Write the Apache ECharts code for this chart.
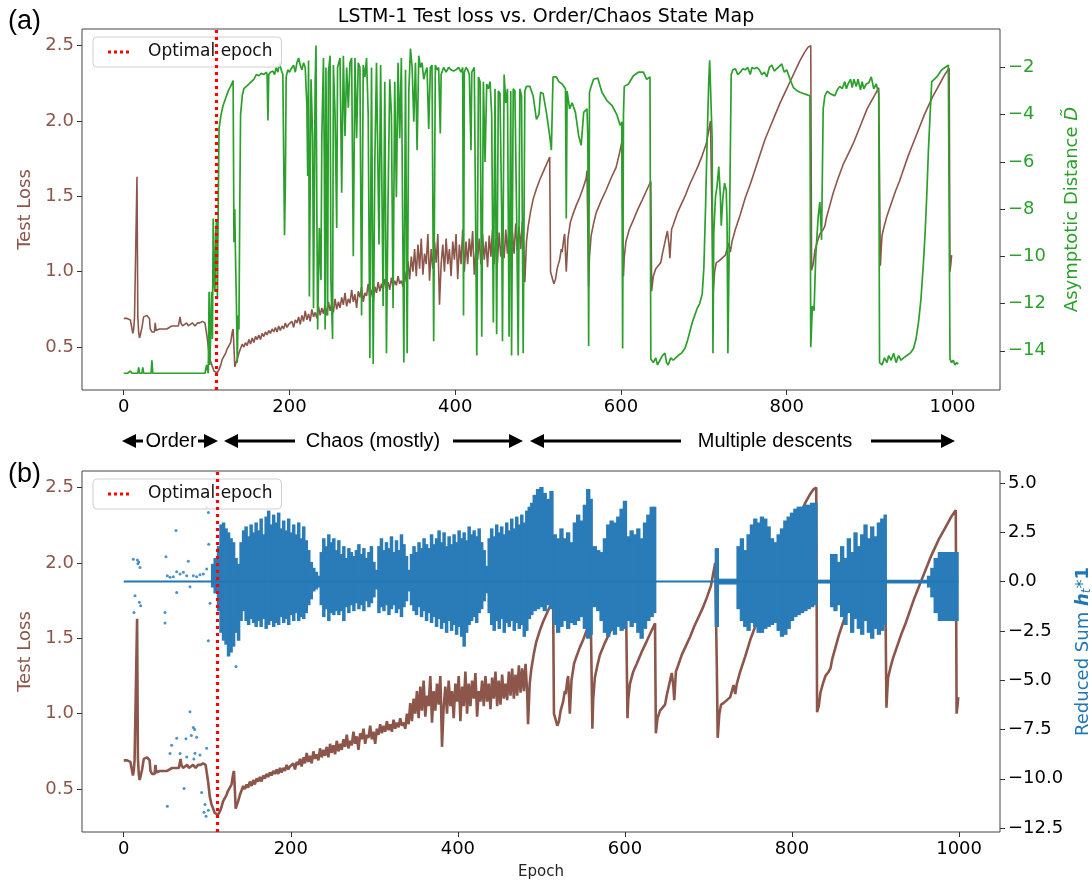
<!DOCTYPE html>
<html>
<head>
<meta charset="utf-8">
<script src="https://cdn.jsdelivr.net/npm/echarts@6/dist/echarts.min.js"></script>
<style>
  html, body { margin: 0; padding: 0; background: #fff; }
  #main { width: 1092px; height: 881px; }
</style>
</head>
<body>
<div id="main"></div>
<script>
// ---- data ----
const optimalEpoch = 112;
const xTicks = [0, 200, 400, 600, 800, 1000];
const lossTicks = [0.5, 1.0, 1.5, 2.0, 2.5];
const distTicks = [-14, -12, -10, -8, -6, -4, -2];
const sumTicks = [-12.5, -10, -7.5, -5, -2.5, 0, 2.5, 5];

// test loss per epoch [epoch, loss]
const testLoss = [
  [0,0.69],[4,0.69],[8,0.68],[10,0.69],[11,0.59],[12,0.62],[13,0.69],[15,0.70],[16,1.63],[17,0.70],[18,0.60],[19,0.56],
  [20,0.58],[22,0.63],[24,0.70],[26,0.70],[28,0.71],[31,0.69],[32,0.62],[34,0.60],[35,0.61],[37,0.60],[38,0.66],[39,0.61],
  [41,0.60],[43,0.62],[45,0.61],[48,0.62],[50,0.63],[52,0.62],[55,0.63],[58,0.64],[60,0.63],[62,0.64],[64,0.65],[66,0.64],
  [68,0.70],[69,0.66],[71,0.64],[73,0.65],[76,0.66],[78,0.64],[80,0.65],[83,0.66],[86,0.64],[89,0.66],[92,0.66],[95,0.67],
  [98,0.66],[100,0.66],[101,0.55],[103,0.45],[105,0.40],[107,0.37],[109,0.34],[111,0.33],[113,0.33],[115,0.35],[117,0.38],
  [119,0.42],[121,0.44],[123,0.46],[125,0.49],[127,0.48],[129,0.53],[131,0.60],[132,0.62],[133,0.50],[134,0.37],[135,0.36],
  [137,0.42],[139,0.46],[141,0.49],[143,0.52],[145,0.50],[147,0.53],[149,0.51],[151,0.55],[153,0.52],[155,0.56],[157,0.53],
  [159,0.57],[161,0.55],[163,0.58],[165,0.55],[167,0.59],[169,0.57],[171,0.60],[173,0.58],[175,0.61],[177,0.59],[179,0.62],
  [181,0.60],[183,0.63],[185,0.60],[187,0.64],[189,0.61],[191,0.64],[193,0.62],[195,0.66],[197,0.63],[199,0.65],[201,0.64],
  [203,0.67],[205,0.63],[207,0.68],[209,0.66],[211,0.70],[213,0.65],[215,0.71],[217,0.67],[219,0.74],[221,0.68],[223,0.72],
  [225,0.67],[227,0.75],[229,0.70],[231,0.73],[233,0.69],[235,0.77],[237,0.71],[239,0.76],[241,0.72],[243,0.78],[245,0.71],
  [247,0.80],[249,0.74],[251,0.79],[253,0.73],[255,0.82],[257,0.75],[259,0.80],[261,0.76],[263,0.83],[265,0.78],[267,0.86],
  [269,0.77],[271,0.82],[273,0.79],[275,0.88],[277,0.80],[279,0.85],[281,0.76],[283,0.87],[285,0.83],[287,0.90],[289,0.80],
  [291,0.86],[293,0.84],[295,0.92],[297,0.83],[299,0.88],[301,0.80],[303,0.90],[305,0.86],[307,0.93],[309,0.87],[311,0.92],
  [313,0.88],[315,0.95],[317,0.89],[319,0.93],[321,0.88],[323,0.96],[325,0.90],[327,0.94],[329,0.91],[331,0.97],[333,0.92],
  [335,0.94],[337,0.90],[339,1.00],[341,0.93],[343,1.07],[345,0.95],[347,1.10],[349,1.00],[351,1.15],[353,0.97],[355,1.18],
  [357,1.02],[359,1.22],[361,0.98],[363,1.12],[365,1.05],[367,1.25],[369,0.94],[371,1.15],[373,1.02],[375,1.20],[377,1.06],
  [379,1.25],[381,0.78],[383,1.05],[385,1.18],[387,1.00],[389,1.22],[391,1.05],[393,1.15],[395,0.97],[397,1.20],[399,1.08],
  [401,1.25],[403,0.95],[405,1.18],[407,1.05],[409,1.28],[411,1.00],[413,1.20],[415,1.05],[417,1.22],[419,1.10],[421,1.27],
  [423,0.98],[425,1.15],[427,1.08],[429,1.22],[431,1.05],[433,1.25],[435,1.08],[437,1.20],[439,1.03],[441,1.24],[443,1.10],
  [445,1.28],[447,1.05],[449,1.22],[451,1.06],[453,1.26],[455,1.10],[457,1.20],[459,1.09],[461,1.28],[463,1.12],[465,1.30],
  [467,1.10],[469,1.26],[471,1.12],[473,1.32],[475,1.14],[477,1.30],[479,1.15],[481,1.33],[483,1.13],[484,0.93],[486,1.20],
  [488,1.30],[491,1.40],[494,1.48],[498,1.55],[502,1.61],[506,1.66],[510,1.71],[514,1.76],[515,1.00],[517,0.96],[519,0.92],
  [521,0.95],[523,1.02],[526,1.08],[528,1.15],[529,1.13],[531,1.22],[532,1.25],[534,1.00],[536,1.22],[539,1.33],[542,1.38],
  [546,1.44],[550,1.49],[554,1.55],[558,1.62],[559,1.67],[561,0.90],[562,1.10],[564,1.24],[567,1.32],[570,1.39],[576,1.47],
  [582,1.54],[588,1.62],[594,1.69],[598,1.78],[601,1.86],[603,0.97],[604,1.10],[606,1.20],[610,1.28],[614,1.33],[620,1.41],
  [626,1.48],[631,1.54],[636,1.60],[637,0.87],[639,0.97],[642,1.02],[645,1.04],[648,1.06],[650,1.12],[652,1.17],[654,1.22],
  [656,1.27],[658,1.18],[659,1.09],[661,1.28],[663,1.31],[668,1.39],[673,1.45],[678,1.51],[683,1.58],[688,1.64],[693,1.70],
  [698,1.77],[703,1.85],[708,2.00],[710,1.30],[711,0.84],[713,1.00],[715,1.06],[718,1.07],[722,1.09],[726,1.11],[728,1.15],
  [730,1.19],[731,1.16],[732,1.13],[734,1.20],[738,1.28],[744,1.38],[750,1.49],[756,1.58],[762,1.68],[768,1.78],[774,1.88],
  [780,1.96],[786,2.04],[792,2.12],[798,2.19],[804,2.26],[810,2.33],[816,2.40],[822,2.46],[826,2.49],[829,2.50],[830,1.01],
  [832,1.05],[834,1.14],[837,1.20],[840,1.25],[844,1.28],[846,1.30],[848,1.36],[852,1.44],[856,1.52],[862,1.62],[868,1.71],
  [875,1.79],[881,1.86],[889,1.97],[897,2.08],[905,2.16],[911,2.22],[912,2.23],[913,1.04],[914,1.15],[915,1.24],[918,1.31],
  [921,1.37],[926,1.45],[931,1.53],[936,1.60],[941,1.68],[946,1.76],[951,1.83],[956,1.90],[961,1.97],[966,2.04],[971,2.10],
  [976,2.16],[981,2.21],[986,2.26],[991,2.31],[996,2.35],[997,1.00],[998,1.05],[999,1.11]
];

// asymptotic distance D~ per epoch [epoch, value]
const asymDist = [
  [0,-14.95],[5,-14.95],[8,-14.85],[10,-14.95],[17,-14.95],[18,-14.7],[19,-14.95],[22,-14.95],[23,-14.7],[24,-14.95],
  [33,-14.95],[34,-14.4],[35,-14.95],[98,-14.95],[100,-14.6],[102,-14.95],[103,-11.5],[104,-14.6],[105,-13.0],[106,-11.5],
  [107,-13.5],[108,-8.4],[109,-11.0],[110,-11.5],[111,-9.0],[112,-8.5],[113,-11.8],[114,-8.0],[115,-4.6],[117,-4.1],
  [118,-3.9],[120,-3.6],[123,-3.3],[126,-3.0],[129,-2.8],[132,-2.55],[133,-9.4],[134,-8.0],[135,-10.3],[136,-12.0],
  [137,-14.5],[138,-12.5],[139,-13.1],[140,-8.0],[141,-4.0],[143,-3.2],[145,-2.9],[148,-2.8],[151,-2.7],[154,-2.6],
  [157,-2.5],[160,-2.3],[163,-2.35],[166,-2.25],[169,-2.3],[172,-2.2],[173,-2.3],[174,-4.25],[175,-2.3],[177,-2.2],
  [180,-2.15],[182,-2.3],[184,-2.0],[186,-2.2],[188,-1.8],[190,-2.1],[192,-2.3],[194,-9.1],[195,-7.0],[196,-2.4],
  [198,-2.1],[200,-2.2],[203,-2.0],[205,-1.9],[207,-2.2],[209,-1.8],[211,-1.6],[213,-1.9],[215,-2.1],[217,-1.8],
  [219,-2.0],[221,-3.6],[222,-6.6],[223,-1.7],[224,-11.7],[226,-2.5],[228,-5.0],[229,-12.2],[231,-2.6],[232,-1.07],
  [233,-8.0],[234,-13.1],[236,-8.8],[238,-11.0],[239,-5.0],[241,-1.6],[242,-6.0],[243,-13.1],[244,-2.0],[246,-12.5],
  [247,-2.2],[249,-1.5],[250,-11.0],[252,-13.5],[253,-1.9],[255,-4.0],[257,-8.8],[258,-2.0],[261,-1.6],[263,-7.3],
  [265,-1.5],[267,-4.9],[269,-2.0],[271,-3.7],[273,-1.8],[275,-1.6],[277,-10.0],[279,-1.6],[281,-5.0],[283,-1.8],
  [285,-2.0],[287,-12.5],[289,-1.9],[291,-2.4],[293,-1.6],[295,-4.0],[297,-14.3],[299,-2.0],[301,-14.56],[303,-6.0],
  [305,-1.8],[308,-9.5],[310,-1.9],[313,-12.1],[315,-2.6],[317,-14.1],[319,-7.5],[321,-2.5],[323,-4.0],[325,-12.2],
  [327,-2.6],[329,-7.5],[331,-1.8],[333,-5.0],[335,-1.6],[338,-14.5],[340,-2.1],[342,-14.1],[344,-3.0],[346,-1.2],
  [348,-2.0],[350,-4.3],[352,-1.8],[354,-5.5],[356,-1.5],[358,-2.0],[360,-1.8],[362,-2.5],[364,-2.2],[366,-2.0],
  [368,-4.6],[370,-2.0],[372,-1.9],[374,-13.6],[376,-1.9],[378,-2.1],[380,-2.0],[382,-4.8],[383,-2.3],[386,-2.0],
  [389,-2.2],[392,-2.0],[395,-2.1],[398,-2.15],[401,-2.1],[404,-2.0],[407,-2.2],[409,-2.0],[410,-12.5],[411,-2.2],
  [413,-2.0],[415,-2.1],[417,-2.3],[419,-5.5],[420,-2.2],[423,-2.0],[426,-14.2],[428,-2.4],[430,-2.6],[432,-13.4],
  [434,-2.6],[436,-6.0],[438,-2.7],[440,-2.9],[442,-2.6],[444,-4.0],[446,-12.8],[448,-2.9],[450,-13.3],[452,-3.0],
  [454,-3.1],[456,-8.0],[457,-13.6],[459,-2.3],[461,-3.5],[463,-2.9],[465,-13.4],[467,-3.0],[468,-14.2],[470,-2.9],
  [472,-3.0],[474,-8.0],[476,-14.2],[478,-2.9],[480,-3.2],[482,-14.1],[484,-3.0],[486,-2.8],[490,-2.8],[494,-3.2],
  [498,-4.2],[501,-4.0],[503,-3.05],[506,-3.1],[510,-3.9],[514,-4.9],[516,-5.5],[518,-2.4],[522,-2.4],[525,-2.6],
  [529,-2.7],[533,-2.9],[534,-8.4],[535,-3.0],[538,-3.75],[541,-3.5],[545,-3.9],[549,-4.9],[552,-5.3],[555,-3.9],
  [559,-3.75],[560,-5.0],[561,-13.8],[562,-3.05],[564,-2.8],[567,-2.5],[572,-2.45],[577,-3.05],[583,-3.4],[589,-3.6],
  [595,-4.0],[599,-4.45],[601,-4.3],[602,-13.9],[603,-4.0],[604,-2.8],[609,-2.7],[615,-2.35],[621,-2.2],[627,-2.2],
  [631,-2.5],[635,-2.4],[636,-14.35],[639,-14.5],[642,-14.3],[644,-14.6],[647,-14.4],[650,-14.2],[653,-14.1],[655,-14.5],
  [657,-14.6],[660,-14.3],[663,-14.4],[666,-14.3],[669,-14.2],[673,-14.1],[677,-13.9],[680,-13.6],[683,-13.2],[686,-12.8],
  [689,-12.5],[692,-12.2],[695,-12.0],[698,-11.6],[700,-10.5],[702,-8.0],[704,-5.0],[706,-2.5],[707,-1.7],[709,-1.7],
  [710,-5.0],[711,-14.1],[712,-9.0],[714,-7.5],[716,-7.0],[718,-6.2],[720,-7.5],[721,-8.7],[723,-7.5],[725,-6.9],
  [727,-7.2],[728,-8.5],[729,-14.1],[731,-8.5],[733,-2.3],[735,-2.1],[738,-2.05],[741,-2.3],[744,-2.2],[747,-2.05],
  [750,-2.1],[753,-2.0],[756,-2.3],[758,-2.0],[761,-2.05],[764,-2.0],[767,-2.1],[770,-2.3],[773,-2.2],[776,-2.4],
  [779,-2.0],[782,-1.9],[785,-2.15],[788,-2.05],[791,-1.95],[794,-1.85],[797,-2.2],[800,-2.1],[804,-2.5],[808,-2.85],
  [812,-2.97],[816,-3.05],[820,-3.1],[824,-3.15],[828,-3.2],[829,-13.85],[831,-12.1],[833,-12.3],[835,-10.0],[838,-8.3],
  [840,-7.7],[842,-9.3],[844,-3.75],[846,-3.2],[849,-3.0],[852,-3.1],[855,-3.15],[858,-3.2],[861,-2.95],[864,-2.8],
  [867,-2.9],[870,-2.6],[872,-2.9],[874,-2.7],[877,-2.5],[879,-2.85],[881,-2.5],[884,-2.8],[886,-2.5],[889,-2.95],
  [891,-2.6],[893,-2.9],[896,-2.7],[899,-2.65],[902,-2.4],[905,-2.9],[908,-2.7],[911,-3.1],[912,-14.5],[915,-14.6],
  [918,-14.3],[921,-14.5],[923,-14.2],[926,-14.4],[929,-14.1],[932,-14.5],[935,-14.2],[938,-14.4],[941,-14.3],[945,-14.2],
  [949,-14.1],[953,-13.9],[956,-13.5],[959,-12.8],[962,-11.8],[965,-10.25],[967,-9.0],[969,-7.4],[971,-5.5],[973,-4.0],
  [975,-2.6],[978,-2.5],[981,-2.4],[984,-2.25],[987,-2.1],[991,-2.0],[995,-1.9],[996,-1.9],[997,-14.35],[999,-14.5],
  [1001,-14.4],[1003,-14.6],[1005,-14.5],[1007,-14.56]
];

// reduced sum h_t*1: spread of the scatter per epoch window [epochStart, epochEnd, low, high]
const hBands = [
  [105,108,-0.3,0.9],[108,112,-0.6,1.2],[112,115,-1.5,1.8],[115,118,-2.6,2.9],[118,121,-3.0,3.0],[121,124,-3.2,2.7],
  [124,127,-3.8,2.5],[127,130,-3.6,2.2],[130,133,-3.3,2.0],[133,136,-2.6,1.2],[136,139,-3.0,0.9],[139,142,-2.0,2.0],
  [142,145,-1.5,2.6],[145,148,-2.0,2.8],[148,151,-2.2,2.3],[151,154,-1.9,2.9],[154,157,-2.1,2.5],[157,160,-2.3,3.0],
  [160,163,-2.0,2.6],[163,166,-2.3,3.2],[166,169,-1.9,2.4],[169,172,-2.4,3.3],[172,175,-2.2,3.6],[175,178,-2.0,2.9],
  [178,181,-2.3,3.4],[181,184,-2.1,3.0],[184,187,-2.2,3.5],[187,190,-1.8,2.7],[190,193,-2.1,3.1],[193,196,-1.9,2.6],
  [196,199,-2.2,3.2],[199,202,-1.7,2.5],[202,205,-2.0,2.9],[205,208,-1.6,2.4],[208,211,-2.0,3.0],[211,214,-1.8,2.2],
  [214,217,-1.9,2.8],[217,220,-1.6,2.1],[220,223,-1.2,1.6],[223,226,-0.9,1.0],[226,229,-0.5,0.7],[229,232,-0.4,0.5],
  [232,235,-0.3,0.3],[235,238,-1.2,1.5],[238,241,-1.8,2.2],[241,244,-1.4,1.8],[244,247,-2.0,2.4],[247,250,-1.6,2.0],
  [250,253,-1.7,2.2],[253,256,-1.5,1.6],[256,259,-1.7,2.1],[259,262,-1.5,1.4],[262,265,-2.0,1.8],[265,268,-1.3,1.2],
  [268,271,-1.6,1.7],[271,274,-1.2,1.5],[274,277,-1.5,1.3],[277,280,-1.1,1.6],[280,283,-1.4,1.9],[283,286,-1.2,1.4],
  [286,289,-1.5,1.7],[289,292,-1.0,1.2],[292,295,-1.3,1.5],[295,298,-1.1,1.8],[298,301,-0.8,1.0],[301,304,-0.4,0.6],
  [304,307,-1.6,1.8],[307,310,-1.3,2.2],[310,313,-1.5,1.6],[313,316,-1.2,2.0],[316,319,-1.7,1.7],[319,322,-1.4,2.3],
  [322,325,-1.2,1.5],[325,328,-1.6,2.1],[328,331,-1.4,1.6],[331,334,-1.8,2.4],[334,337,-1.3,1.9],[337,340,-1.0,1.3],
  [340,343,-0.5,0.6],[343,346,-1.2,1.4],[346,349,-1.5,1.8],[349,352,-1.7,1.5],[352,355,-1.3,2.0],[355,358,-1.8,1.7],
  [358,361,-1.5,2.2],[361,364,-2.0,1.9],[364,367,-1.6,1.7],[367,370,-2.1,2.4],[370,373,-1.8,1.9],[373,376,-2.3,2.2],
  [376,379,-1.9,2.6],[379,382,-2.4,2.0],[382,385,-2.1,2.5],[385,388,-2.6,1.8],[388,391,-2.0,2.3],[391,394,-2.5,1.9],
  [394,397,-2.2,2.4],[397,400,-2.7,2.0],[400,403,-2.3,2.6],[403,406,-2.8,2.2],[406,409,-3.3,2.5],[409,412,-2.6,2.1],
  [412,415,-2.2,2.8],[415,418,-2.0,2.4],[418,421,-1.8,2.6],[421,424,-2.1,2.3],[424,427,-1.6,2.7],[427,430,-1.4,2.0],
  [430,433,-1.0,1.6],[433,436,-0.6,0.8],[436,439,-1.6,2.2],[439,442,-2.2,2.7],[442,445,-2.5,2.3],[445,448,-2.0,2.9],
  [448,451,-2.4,2.5],[451,454,-1.9,2.8],[454,457,-2.6,2.4],[457,460,-2.1,3.0],[460,463,-2.3,2.6],[463,466,-2.0,3.2],
  [466,469,-2.5,2.7],[469,472,-2.1,3.3],[472,475,-2.4,2.9],[475,478,-2.2,3.4],[478,481,-2.8,3.0],[481,484,-2.5,3.6],
  [484,487,-1.9,3.8],[487,490,-1.7,4.0],[490,494,-1.5,4.4],[494,498,-1.4,4.7],[498,502,-1.3,4.8],[502,506,-1.5,4.5],
  [506,510,-1.2,4.2],[510,514,-1.4,4.6],[514,518,-2.2,2.4],[518,522,-2.6,2.2],[522,526,-2.3,2.7],[526,530,-2.0,2.2],
  [530,534,-2.4,2.5],[534,538,-2.1,2.0],[538,542,-2.2,3.0],[542,546,-2.0,3.4],[546,550,-1.8,3.1],[550,554,-2.4,3.9],
  [554,558,-2.9,4.7],[558,561,-2.7,4.2],[561,566,-1.3,1.8],[566,570,-1.5,1.6],[570,574,-2.0,1.5],[574,578,-2.6,2.2],
  [578,582,-2.8,2.9],[582,586,-2.5,3.1],[586,590,-2.7,3.0],[590,594,-2.3,3.3],[594,598,-2.5,3.7],[598,602,-2.4,4.1],
  [602,606,-2.0,2.3],[606,610,-2.3,2.6],[610,614,-2.1,2.4],[614,618,-2.6,2.7],[618,622,-2.9,2.2],[622,626,-2.4,3.0],
  [626,630,-2.0,3.4],[630,634,-1.8,3.8],[634,637,-1.6,3.8],
  [708,712,-2.3,1.7],[712,734,-0.15,0.15],[734,738,-1.4,1.8],[738,742,-2.0,2.2],[742,746,-2.3,1.6],[746,750,-2.5,2.4],
  [750,754,-2.1,2.9],[754,758,-2.3,3.2],[758,762,-2.6,3.0],[762,766,-2.6,3.3],[766,770,-2.4,3.2],[770,774,-2.3,2.8],
  [774,778,-2.2,2.2],[778,782,-2.1,2.0],[782,786,-2.5,2.4],[786,790,-2.8,2.7],[790,794,-2.7,3.1],[794,798,-2.4,3.3],
  [798,802,-2.0,3.5],[802,806,-1.8,3.7],[806,810,-1.7,3.8],[810,814,-1.6,3.8],[814,818,-1.5,3.9],[818,822,-1.4,3.9],
  [822,826,-1.3,4.0],[826,830,-1.2,4.0],[830,846,-0.1,0.1],[846,850,-1.3,1.4],[850,854,-1.5,1.4],[854,858,-1.2,1.0],
  [858,862,-1.8,1.8],[862,866,-2.2,1.2],[866,870,-1.6,2.2],[870,874,-2.6,1.5],[874,878,-1.9,2.5],[878,882,-2.4,1.8],
  [882,886,-2.7,2.4],[886,890,-2.0,2.9],[890,894,-2.6,2.2],[894,898,-2.9,2.8],[898,902,-2.4,2.3],[902,906,-2.7,3.0],
  [906,910,-2.5,3.2],[910,913,-2.2,3.4],[913,962,-0.1,0.1],[962,966,-0.3,0.3],[966,970,-0.8,0.7],[970,975,-1.6,1.2],
  [975,999,-2.0,1.5]
];

// isolated scatter points in the ordered phase [epoch, value]
const hDots = [
  [11.5,1.14],[16.3,1.09],[18,1.0],[19.5,0.72],[17,0.9],[13.5,-0.72],[18.7,-1.05],[20.3,-1.22],[12.3,-1.57],
  [50.6,1.26],[62.6,2.59],[49.4,-1.57],[49.4,-2.1],[63.4,-0.55],[77.3,1.03],[52.2,0.3],[55.4,0.22],[59.4,0.25],
  [63.4,0.5],[67.4,0.38],[71.4,0.47],[75.4,0.3],[79.3,-0.26],[83.3,0.3],[87.3,0.25],[91.3,0.35],[95.3,0.38],
  [99.3,0.64],[101.3,-3.0],[99.3,3.76],[101.3,3.5],[101.7,1.9],[103.3,-1.1],[79.3,-6.6],[83.3,-7.4],[85,-7.5],
  [81,-7.8],[87.3,-7.9],[57.4,-8.3],[63.4,-7.95],[74.5,-7.97],[55.4,-8.72],[67.4,-8.72],[75.4,-8.9],[85.3,-8.7],
  [91.3,-8.8],[99.3,-8.45],[72.2,-10.5],[52.2,-11.4],[93.3,-10.7],[97.3,-11.3],[96.1,-11.7],[98.5,-11.9],
  [101.3,-11.6],[84,-9.0],[134.4,-4.3]
];
const hBaseline = [[0, 0], [999, 0]];

const BROWN = '#8c564b', GREEN = '#2ca02c', BLUE = '#1f77b4', RED = '#ff0000';
const FONT = 'DejaVu Sans';

function minus(v, digits) {
  const s = digits == null ? String(v) : v.toFixed(digits);
  return s.replace('-', '\u2212');
}

function xAxisCfg(gridIndex, min, max, name) {
  return {
    type: 'value', gridIndex: gridIndex, min: min, max: max,
    name: name || '', nameLocation: 'middle', nameGap: 33,
    nameTextStyle: { fontFamily: FONT, fontSize: 15, color: '#222' },
    splitLine: { show: false },
    axisLine: { show: false, onZero: false },
    axisTick: { show: true, length: 5, customValues: xTicks, lineStyle: { color: '#333' } },
    axisLabel: { customValues: xTicks, margin: 8, fontFamily: FONT, fontSize: 18, color: '#000',
      formatter: v => String(v) }
  };
}

function yAxisCfg(gridIndex, pos, min, max, ticks, color, fmt, name, nameGap, nameStyle) {
  return {
    type: 'value', gridIndex: gridIndex, position: pos, min: min, max: max,
    name: name, nameLocation: 'middle', nameGap: nameGap, nameRotate: 90,
    nameTextStyle: nameStyle,
    splitLine: { show: false },
    axisLine: { show: false, onZero: false },
    axisTick: { show: true, length: 5, customValues: ticks, lineStyle: { color: '#333' } },
    axisLabel: { customValues: ticks, margin: 8, fontFamily: FONT, fontSize: 18, color: color, formatter: fmt }
  };
}

function arrow(x1, x2, y, dir) {
  // dir: -1 head on the left (at x1), +1 head on the right (at x2)
  const tip = dir < 0 ? x1 : x2;
  const base = tip - dir * 14;
  return [
    { type: 'line', shape: { x1: dir < 0 ? base : x1, y1: y, x2: dir < 0 ? x2 : base, y2: y },
      style: { stroke: '#000', lineWidth: 3 } },
    { type: 'polygon', shape: { points: [[tip, y], [base, y - 7], [base, y + 7]] }, style: { fill: '#000' } }
  ];
}

const chart = echarts.init(document.getElementById('main'), null, { renderer: 'canvas' });

const legendCfg = (top) => ({
  left: 93, top: top, orient: 'horizontal',
  data: [{ name: 'Optimal epoch', icon: 'path://M0,0h3v3h-3zM6,0h3v3h-3zM12,0h3v3h-3zM18,0h3v3h-3z' }],
  padding: [6, 9, 6, 15], itemWidth: 21, itemHeight: 3,
  backgroundColor: 'rgba(255,255,255,0.85)', borderColor: '#d0d0d0', borderWidth: 1, borderRadius: 4,
  itemStyle: { color: RED },
  textStyle: { fontFamily: FONT, fontSize: 17, color: '#111', padding: [0, 0, 0, 14], lineHeight: 18 },
  selectedMode: false
});

const optimalLine = (xi, yi) => ({
  name: 'Optimal epoch', type: 'line', xAxisIndex: xi, yAxisIndex: yi,
  data: [], symbol: 'none',
  lineStyle: { color: RED, type: 'dotted', width: 3 },
  itemStyle: { color: RED },
  z: 5,
  markLine: {
    silent: true, symbol: 'none', label: { show: false },
    lineStyle: { color: RED, type: [3, 4], width: 3.2 },
    data: [{ xAxis: optimalEpoch }]
  }
});

const labelFrag = { fontFamily: FONT, fontSize: 18, color: BLUE };

chart.setOption({
  animation: false,
  backgroundColor: '#fff',
  title: {
    text: 'LSTM-1 Test loss vs. Order/Chaos State Map',
    left: 541, top: 3, textAlign: 'center',
    textStyle: { fontFamily: FONT, fontSize: 19, fontWeight: 'normal', color: '#000' }
  },
  legend: [legendCfg(37), legendCfg(479)],
  grid: [
    { left: 82, top: 29, width: 918, height: 361, show: true, borderColor: '#444', borderWidth: 1, outerBoundsMode: 'none' },
    { left: 82, top: 471, width: 918, height: 361, show: true, borderColor: '#444', borderWidth: 1, outerBoundsMode: 'none' }
  ],
  xAxis: [
    xAxisCfg(0, -50.35, 1057.35),
    xAxisCfg(1, -49.95, 1048.95, 'Epoch')
  ],
  yAxis: [
    yAxisCfg(0, 'left', 0.215, 2.61, lossTicks, BROWN, v => v.toFixed(1), 'Test Loss', 43,
      { fontFamily: FONT, fontSize: 18, color: BROWN }),
    yAxisCfg(0, 'right', -15.66, -0.37, distTicks, GREEN, v => minus(v), 'Asymptotic Distance {d|D\u0303}', 63,
      { fontFamily: FONT, fontSize: 18, color: GREEN,
        rich: { d: { fontFamily: FONT, fontSize: 18, color: GREEN, fontStyle: 'italic' } } }),
    yAxisCfg(1, 'left', 0.215, 2.61, lossTicks, BROWN, v => v.toFixed(1), 'Test Loss', 43,
      { fontFamily: FONT, fontSize: 18, color: BROWN }),
    yAxisCfg(1, 'right', -12.70, 5.61, sumTicks, '#000', v => minus(v, 1),
      'Reduced Sum {h|h}{t|t}{s|*}{one|1}', 70,
      { fontFamily: FONT, fontSize: 18, color: BLUE,
        rich: {
          h: Object.assign({}, labelFrag, { fontWeight: 'bold', fontStyle: 'italic' }),
          t: Object.assign({}, labelFrag, { fontSize: 12, fontStyle: 'italic', verticalAlign: 'bottom', padding: [8, 0, 0, 0] }),
          s: labelFrag,
          one: Object.assign({}, labelFrag, { fontWeight: 'bold' })
        } })
  ],
  series: [
    // panel (a)
    { name: 'Test loss', type: 'line', xAxisIndex: 0, yAxisIndex: 0, data: testLoss, symbol: 'none',
      lineStyle: { color: BROWN, width: 1.6 }, z: 2 },
    { name: 'Asymptotic distance', type: 'line', xAxisIndex: 0, yAxisIndex: 1, data: asymDist, symbol: 'none',
      lineStyle: { color: GREEN, width: 1.7 }, z: 3 },
    optimalLine(0, 0),
    // panel (b)
    { name: 'Test loss b', type: 'line', xAxisIndex: 1, yAxisIndex: 2, data: testLoss, symbol: 'none',
      lineStyle: { color: BROWN, width: 2.6 }, z: 2 },
    { name: 'h baseline', type: 'line', xAxisIndex: 1, yAxisIndex: 3, data: hBaseline, symbol: 'none',
      lineStyle: { color: BLUE, width: 2 }, z: 3 },
    { name: 'h spread', type: 'custom', xAxisIndex: 1, yAxisIndex: 3, data: hBands, z: 3,
      encode: { x: [0, 1], y: [2, 3] },
      renderItem: function (params, api) {
        const p1 = api.coord([api.value(0), api.value(3)]);
        const p2 = api.coord([api.value(1), api.value(2)]);
        return {
          type: 'rect',
          shape: { x: p1[0] - 0.5, y: p1[1], width: Math.max(1, p2[0] - p1[0]) + 1, height: Math.max(2, p2[1] - p1[1]) },
          style: { fill: '#2a7cb8' }
        };
      } },
    { name: 'h dots', type: 'scatter', xAxisIndex: 1, yAxisIndex: 3, data: hDots, symbolSize: 3,
      itemStyle: { color: BLUE }, z: 3 },
    optimalLine(1, 2)
  ],
  graphic: [
    { type: 'text', left: 8, top: 8, style: { text: '(a)', fontFamily: 'Liberation Sans', fontSize: 27, fill: '#000' } },
    { type: 'text', left: 8, top: 461, style: { text: '(b)', fontFamily: 'Liberation Sans', fontSize: 27, fill: '#000' } },
    ...arrow(122, 143, 441, -1),
    { type: 'text', x: 171, y: 441, style: { text: 'Order', fontFamily: 'Liberation Sans', fontSize: 20, fill: '#000', align: 'center', verticalAlign: 'middle' } },
    ...arrow(198, 218, 441, 1),
    ...arrow(224, 295, 441, -1),
    { type: 'text', x: 373, y: 441, style: { text: 'Chaos (mostly)', fontFamily: 'Liberation Sans', fontSize: 20, fill: '#000', align: 'center', verticalAlign: 'middle' } },
    ...arrow(453, 523, 441, 1),
    ...arrow(530, 681, 441, -1),
    { type: 'text', x: 775, y: 441, style: { text: 'Multiple descents', fontFamily: 'Liberation Sans', fontSize: 20, fill: '#000', align: 'center', verticalAlign: 'middle' } },
    ...arrow(871, 955, 441, 1)
  ]
});
</script>
</body>
</html>
